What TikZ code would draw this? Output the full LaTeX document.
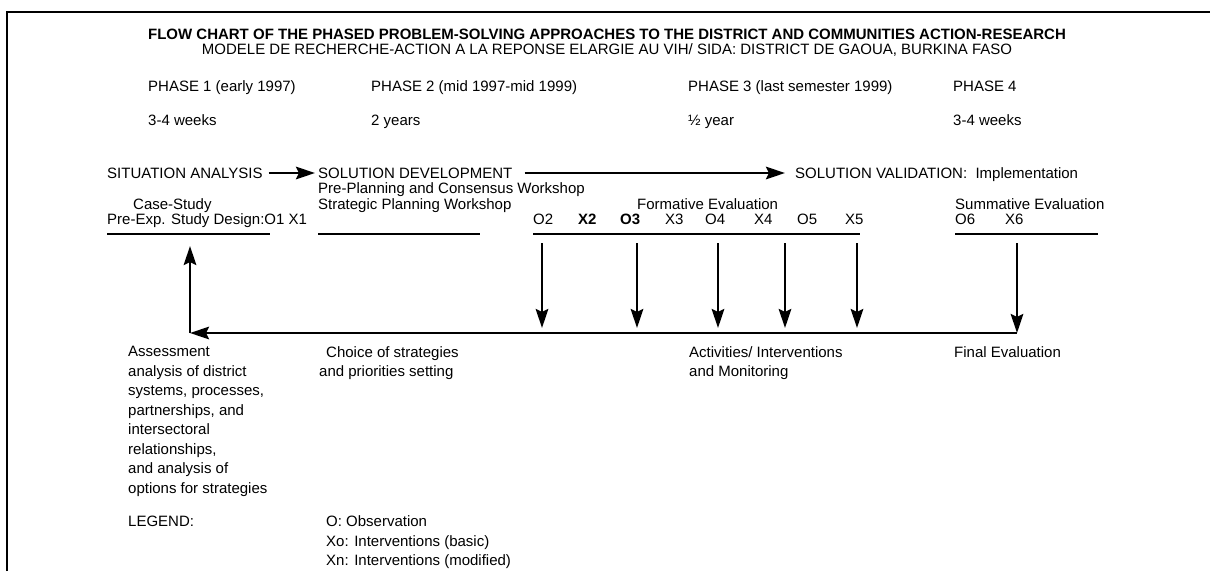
\documentclass[tikz,border=0pt]{standalone}
\usepackage{fontspec}
\setmainfont{Liberation Sans}
\usetikzlibrary{arrows.meta}

\begin{document}
\begin{tikzpicture}[x=1pt,y=-1pt,>={Stealth[length=19pt,width=12.5pt,inset=3pt]},
  font=\fontsize{15}{19.5}\selectfont,
  txt/.style={anchor=base west,inner sep=0pt,align=left},
  block/.style={anchor=north west,inner sep=0pt,align=left},
  bar/.style={line width=2.7pt},
  flow/.style={->,line width=2.4pt}]
  \useasboundingbox (0,0) rectangle (1210,571);
  \draw[line width=2.6pt] (7,571) -- (7,12) -- (1210,12);
  % heading
  \node[txt,anchor=base] (title) at (607,39) {\bfseries FLOW CHART OF THE PHASED PROBLEM-SOLVING APPROACHES TO THE DISTRICT AND COMMUNITIES ACTION-RESEARCH};
  \node[txt,anchor=base] (subtitle) at (607,54) {MODELE DE RECHERCHE-ACTION A LA REPONSE ELARGIE AU VIH/ SIDA: DISTRICT DE GAOUA, BURKINA FASO};
  % phases
  \node[txt] (ph1) at (148,91) {PHASE 1 (early 1997)};
  \node[txt] (ph2) at (371,91) {PHASE 2 (mid 1997-mid 1999)};
  \node[txt] (ph3) at (688,91) {PHASE 3 (last semester 1999)};
  \node[txt] (ph4) at (953,91) {PHASE 4};
  \node[txt] (dur1) at (148,125) {3-4 weeks};
  \node[txt] (dur2) at (371,125) {2 years};
  \node[txt] (dur3) at (688,125) {½ year};
  \node[txt] (dur4) at (953,125) {3-4 weeks};
  % steps
  \node[txt] (sit) at (107,178) {SITUATION ANALYSIS};
  \node[txt] (dev) at (318,178) {SOLUTION DEVELOPMENT};
  \node[txt] (val) at (795,178) {SOLUTION VALIDATION:~ Implementation};
  \draw[flow] ([shift={(6,-5)}]sit.base east) -- ([shift={(-3,-5)}]dev.base west);
  \draw[flow] ([shift={(12,-5)}]dev.base east) -- ([shift={(-10,-5)}]val.base west);
  \node[txt] (preplan) at (318,193) {Pre-Planning and Consensus Workshop};
  \node[txt] (strat) at (318,209) {Strategic Planning Workshop};
  \node[txt] (case) at (133,209) {Case-Study};
  \node[txt] (design) at (107,224) {Pre-Exp. Study Design:O1 X1};
  \node[txt] (form) at (637,209) {Formative Evaluation};
  \node[txt] (summ) at (955,209) {Summative Evaluation};
  \node[txt] (o2) at (533,224) {O2};
  \node[txt] (x2) at (578,224) {\bfseries X2};
  \node[txt] (o3) at (620,224) {\bfseries O3};
  \node[txt] (x3) at (665,224) {X3};
  \node[txt] (o4) at (705,224) {O4};
  \node[txt] (x4) at (754,224) {X4};
  \node[txt] (o5) at (797,224) {O5};
  \node[txt] (x5) at (845,224) {X5};
  \node[txt] (o6) at (955,224) {O6};
  \node[txt] (x6) at (1005,224) {X6};
  \draw[bar] (107,234) -- (270,234);
  \draw[bar] (318,234) -- (480,234);
  \draw[bar] (533,234) -- (860,234);
  \draw[bar] (955,234) -- (1098,234);
  % feedback loop
  \coordinate (fin) at (1017,243);
  \coordinate (ret) at (1017,333);
  \coordinate (corner) at (190,333);
  \coordinate (up) at (190,246);
  \foreach \x [count=\i] in {542,637,718,785,857} {
    \coordinate (top\i) at (\x,243);
    \coordinate (bot\i) at (\x,328);
    \draw[flow] (top\i) -- (bot\i);
  }
  \draw[flow] (fin) -- (ret);
  \draw[flow] (ret) -- (corner);
  \draw[flow] (corner) -- (up);
  % below the loop
  \node[block] (assess) at (128,346.3) {Assessment\\analysis of district\\systems, processes,\\partnerships, and\\intersectoral\\relationships,\\and analysis of\\options for strategies};
  \node[txt] (choice) at (326,357) {Choice of strategies};
  \node[txt] (prio) at (319,376) {and priorities setting};
  \node[block] (activ) at (689,346.3) {Activities/ Interventions\\and Monitoring};
  \node[txt] (final) at (954,357) {Final Evaluation};
  % legend
  \node[txt] (legend) at (128,526.5) {LEGEND:};
  \node[block] (legitems) at (326,515.8) {O: Observation\\Xo: Interventions (basic)\\Xn: Interventions (modified)};
\end{tikzpicture}
\end{document}
